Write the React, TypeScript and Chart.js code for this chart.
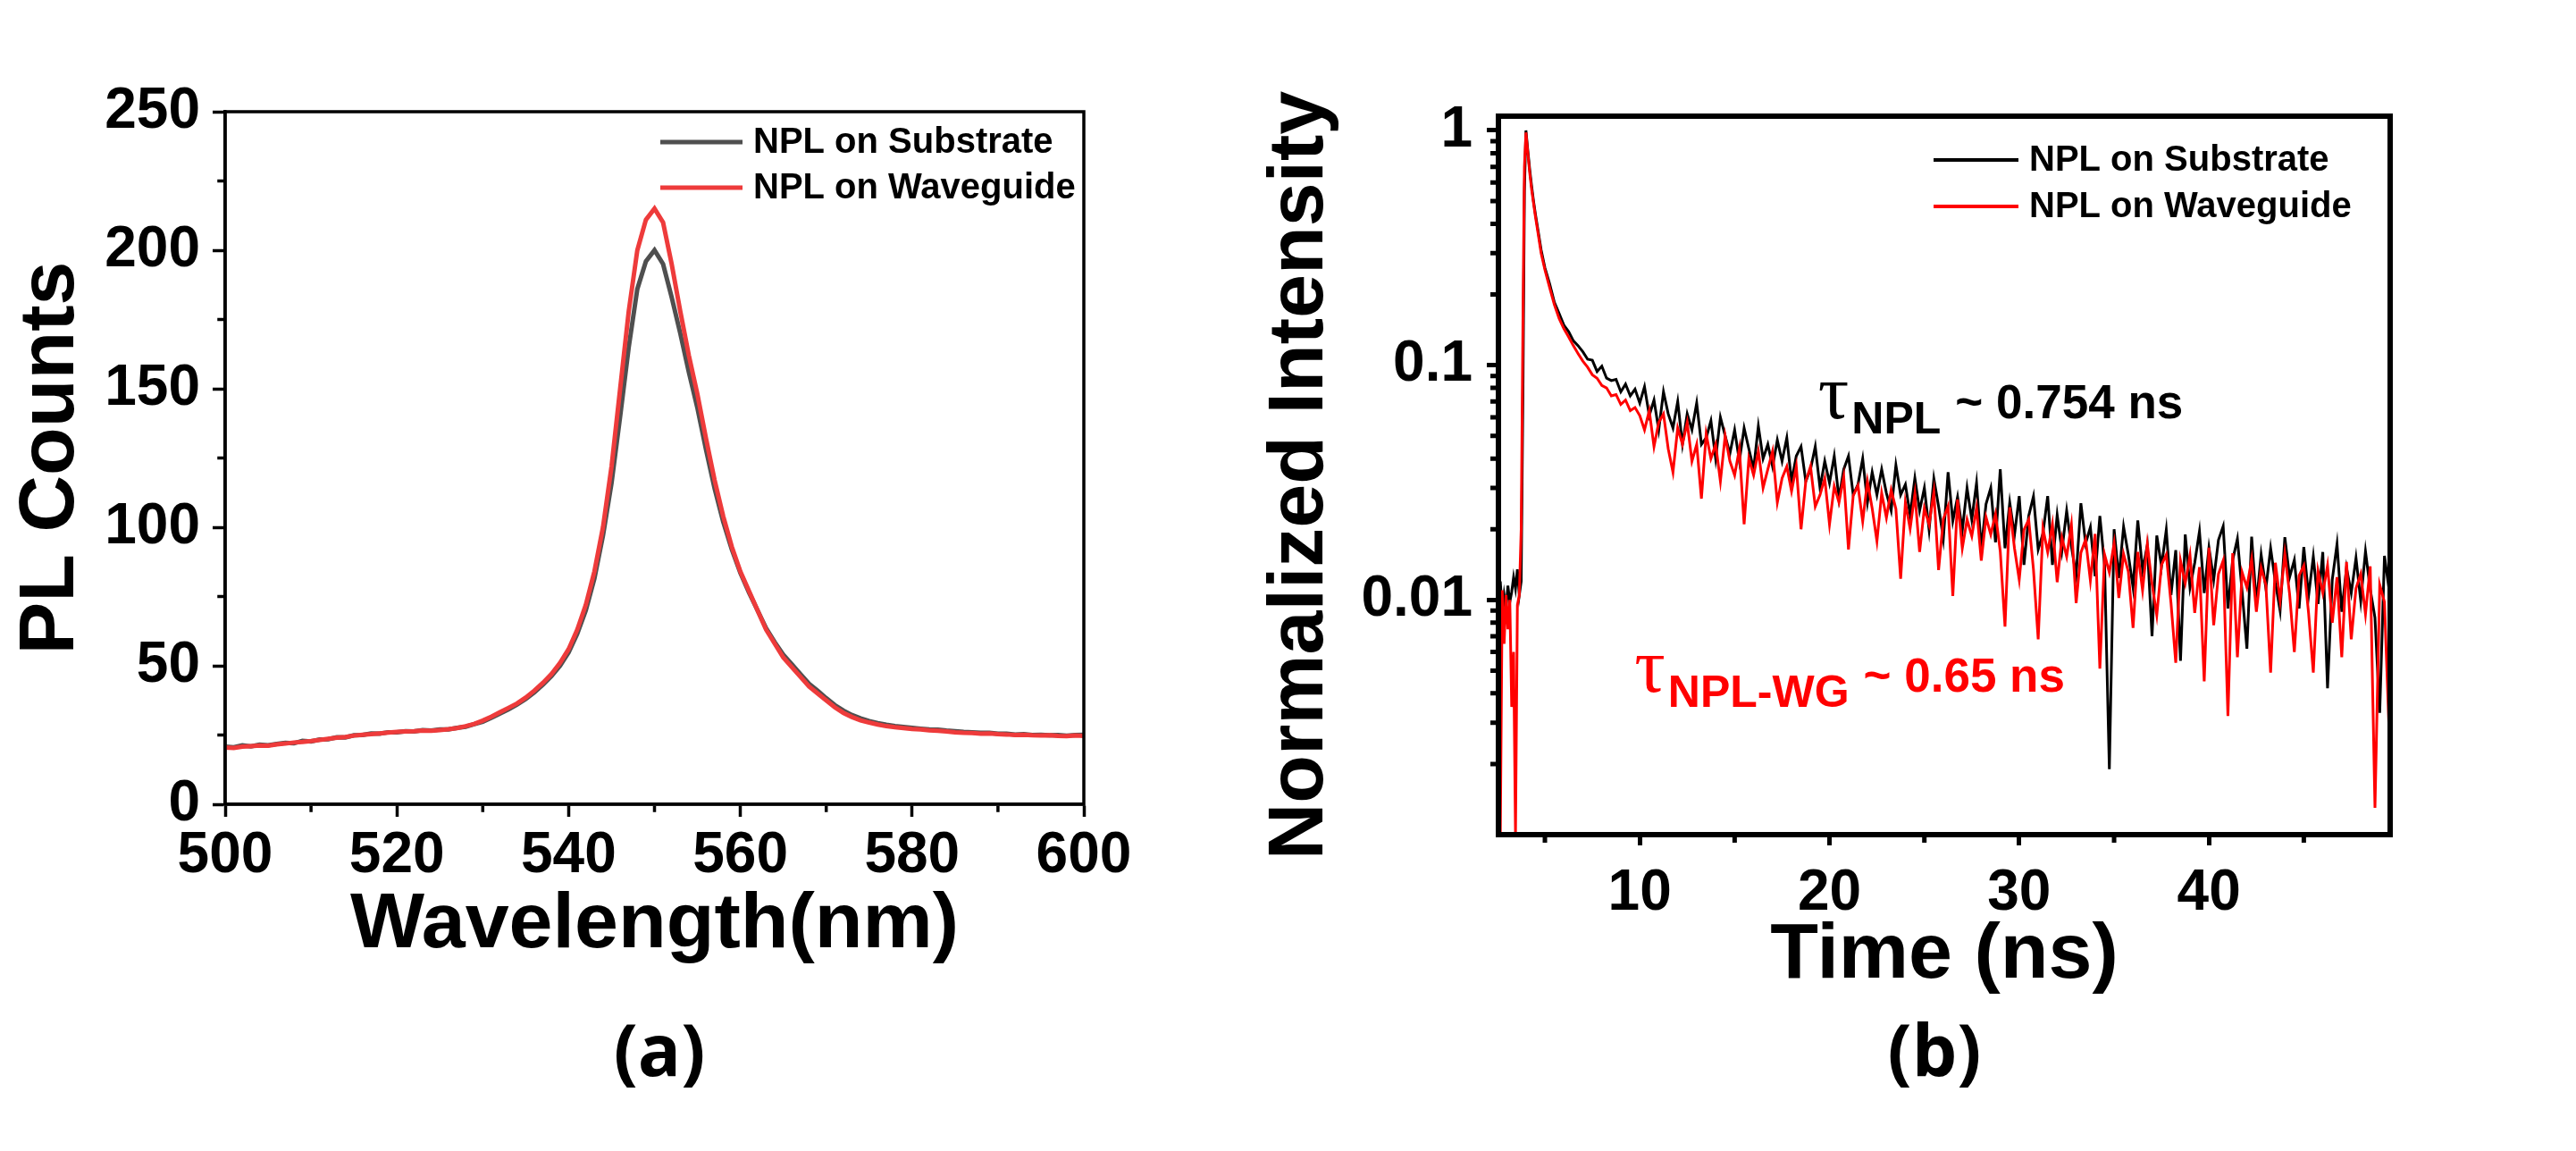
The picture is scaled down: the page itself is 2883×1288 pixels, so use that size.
import React, { useEffect, useRef } from 'react';
import { Chart, registerables } from 'chart.js';

Chart.register(...registerables);

// ---------------- Panel (a): PL spectra ----------------
const wavelength = [
  500, 501, 502, 503, 504, 505, 506, 507, 508, 509,
  510, 511, 512, 513, 514, 515, 516, 517, 518, 519,
  520, 521, 522, 523, 524, 525, 526, 527, 528, 529,
  530, 531, 532, 533, 534, 535, 536, 537, 538, 539,
  540, 541, 542, 543, 544, 545, 546, 547, 548, 549,
  550, 551, 552, 553, 554, 555, 556, 557, 558, 559,
  560, 561, 562, 563, 564, 565, 566, 567, 568, 569,
  570, 571, 572, 573, 574, 575, 576, 577, 578, 579,
  580, 581, 582, 583, 584, 585, 586, 587, 588, 589,
  590, 591, 592, 593, 594, 595, 596, 597, 598, 599,
  600,
];

const plSubstrate = [
  20.8, 20.6, 21.3, 20.9, 21.5, 21.3, 21.8, 22.2, 22.0, 22.9,
  22.7, 23.4, 23.5, 24.2, 24.1, 24.9, 25.0, 25.6, 25.5, 26.0,
  26.0, 26.4, 26.3, 26.8, 26.6, 27.0, 27.0, 27.6, 28.0, 28.9,
  29.8, 31.2, 32.7, 34.3, 36.0, 38.0, 40.4, 43.2, 46.3, 50.0,
  54.8, 61.5, 70.0, 81.5, 97, 116, 140, 165, 186, 196,
  200, 195, 183, 170, 156, 143, 128, 114, 102, 92,
  83.5, 76.5, 70, 63.5, 58.5, 54, 50.5, 47, 43.5, 41,
  38.3, 35.8, 33.8, 32.2, 31.0, 30.0, 29.3, 28.7, 28.2, 27.9,
  27.6, 27.3, 27.0, 26.9, 26.6, 26.4, 26.1, 26.0, 25.8, 25.8,
  25.5, 25.5, 25.2, 25.3, 25.0, 25.1, 24.9, 25.0, 24.8, 25.0,
  25.1,
];

const plWaveguide = [
  20.5, 20.3, 20.8, 21.0, 21.2, 21.1, 21.6, 21.9, 22.3, 22.5,
  22.8, 23.2, 23.6, 24.0, 24.3, 24.8, 25.1, 25.3, 25.6, 25.9,
  26.1, 26.3, 26.4, 26.6, 26.5, 26.8, 27.1, 27.5, 28.2, 29.0,
  30.2, 31.6, 33.2, 34.8, 36.4, 38.5, 41.0, 43.8, 47.0, 51.0,
  56.0, 63.0, 72.0, 84.0, 100, 122, 150, 178, 200, 211,
  215, 210, 195, 178, 162, 148, 132, 117, 104, 93,
  84, 77, 70, 63, 58, 53, 49.5, 46, 42.5, 40,
  37.5, 35, 33, 31.5, 30.3, 29.5, 28.8, 28.2, 27.8, 27.5,
  27.2, 27.0, 26.7, 26.5, 26.3, 26.0, 25.8, 25.7, 25.5, 25.6,
  25.3, 25.2, 25.0, 25.1, 24.9, 24.8, 24.9, 24.7, 24.6, 24.8,
  24.7,
];

const plXTicks = [500, 520, 540, 560, 580, 600];
const plXMinor = [510, 530, 550, 570, 590];
const plYTicks = [0, 50, 100, 150, 200, 250];
const plYMinor = [25, 75, 125, 175, 225];

// ---------------- Panel (b): TRPL decays ----------------
const timeNs = [
  2.55, 2.65, 2.75, 2.85, 2.95, 3.05, 3.15, 3.25, 3.35, 3.45, 3.55, 3.65,
  3.75, 3.85, 3.92, 4.0, 4.1, 4.2, 4.3, 4.4, 4.5, 4.65, 4.8, 5.0,
  5.25, 5.5, 5.75, 6.0, 6.25, 6.5, 6.75, 7.0, 7.25, 7.5, 7.75, 8.0,
  8.25, 8.5, 8.75, 9.0, 9.25, 9.5, 9.75, 10.0, 10.25, 10.5, 10.75, 11.0,
  11.25, 11.5, 11.75, 12.0, 12.25, 12.5, 12.75, 13.0, 13.25, 13.5, 13.75, 14.0,
  14.25, 14.5, 14.75, 15.0, 15.25, 15.5, 15.75, 16.0, 16.25, 16.5, 16.75, 17.0,
  17.25, 17.5, 17.75, 18.0, 18.25, 18.5, 18.75, 19.0, 19.25, 19.5, 19.75, 20.0,
  20.25, 20.5, 20.75, 21.0, 21.25, 21.5, 21.75, 22.0, 22.25, 22.5, 22.75, 23.0,
  23.25, 23.5, 23.75, 24.0, 24.25, 24.5, 24.75, 25.0, 25.25, 25.5, 25.75, 26.0,
  26.25, 26.5, 26.75, 27.0, 27.25, 27.5, 27.75, 28.0, 28.25, 28.5, 28.75, 29.0,
  29.25, 29.5, 29.75, 30.0, 30.25, 30.5, 30.75, 31.0, 31.25, 31.5, 31.75, 32.0,
  32.25, 32.5, 32.75, 33.0, 33.25, 33.5, 33.75, 34.0, 34.25, 34.5, 34.75, 35.0,
  35.25, 35.5, 35.75, 36.0, 36.25, 36.5, 36.75, 37.0, 37.25, 37.5, 37.75, 38.0,
  38.25, 38.5, 38.75, 39.0, 39.25, 39.5, 39.75, 40.0, 40.25, 40.5, 40.75, 41.0,
  41.25, 41.5, 41.75, 42.0, 42.25, 42.5, 42.75, 43.0, 43.25, 43.5, 43.75, 44.0,
  44.25, 44.5, 44.75, 45.0, 45.25, 45.5, 45.75, 46.0, 46.25, 46.5, 46.75, 47.0,
  47.25, 47.5, 47.75, 48.0, 48.25, 48.5, 48.75, 49.0, 49.25, 49.5,
];

const trplSubstrate = [
  0.0095, 0.012, 0.0088, 0.0105, 0.0092, 0.0115, 0.0098, 0.0108, 0.0125, 0.0112, 0.0135, 0.0105,
  0.012, 0.09, 0.55, 1.0, 0.82, 0.68, 0.58, 0.50, 0.44, 0.37, 0.31, 0.26,
  0.222, 0.185, 0.166, 0.148,
  0.139, 0.127, 0.121, 0.114,
  0.106, 0.105, 0.094, 0.099,
  0.088, 0.086, 0.087, 0.077,
  0.083, 0.074, 0.079, 0.069,
  0.081, 0.061, 0.071, 0.053,
  0.077, 0.062, 0.054, 0.070,
  0.046, 0.062, 0.053, 0.069,
  0.046, 0.049, 0.058, 0.040,
  0.060, 0.050, 0.042, 0.053,
  0.039, 0.054, 0.044, 0.036,
  0.055, 0.040, 0.046, 0.037,
  0.048, 0.039, 0.049, 0.032,
  0.041, 0.045, 0.032, 0.036,
  0.045, 0.030, 0.039, 0.0315,
  0.041, 0.027, 0.036, 0.041,
  0.028, 0.031, 0.040, 0.026,
  0.035, 0.028, 0.036, 0.0285,
  0.024, 0.0375, 0.028, 0.031,
  0.023, 0.033, 0.024, 0.030,
  0.0199, 0.0329, 0.025, 0.0182,
  0.035, 0.0217, 0.0275, 0.0198,
  0.030, 0.022, 0.0315, 0.0165,
  0.0256, 0.030, 0.0176, 0.036,
  0.0166, 0.026, 0.0189, 0.0277,
  0.0141, 0.0228, 0.0276, 0.0164,
  0.0192, 0.0277, 0.0141, 0.023,
  0.0162, 0.024, 0.0169, 0.0127,
  0.0258, 0.0174, 0.0204, 0.0126,
  0.0228, 0.014, 0.0019, 0.020,
  0.0124, 0.0205, 0.0156, 0.0113,
  0.0218, 0.0134, 0.0171, 0.0070,
  0.0188, 0.0139, 0.0199, 0.0105,
  0.0163, 0.0055, 0.019, 0.0113,
  0.0144, 0.0196, 0.0107, 0.0167,
  0.0122, 0.018, 0.0206, 0.0092,
  0.0148, 0.0182, 0.0108, 0.0062,
  0.0186, 0.0096, 0.0156, 0.0112,
  0.0166, 0.0119, 0.009, 0.0185,
  0.0125, 0.0148, 0.0092, 0.0168,
  0.0104, 0.0153, 0.0096, 0.016,
  0.0042, 0.0122, 0.0173, 0.0089,
  0.0137, 0.0107, 0.0151, 0.0099,
  0.0161, 0.0111, 0.0084, 0.0033,
  0.0154, 0.011,
];

const trplWaveguide = [
  0.004, 0.001, 0.011, 0.0065, 0.0105, 0.0075, 0.010, 0.0035, 0.006, 0.001, 0.0095, 0.0105,
  0.02, 0.18, 0.7, 0.98, 0.80, 0.66, 0.56, 0.49, 0.43, 0.36, 0.30, 0.255,
  0.214, 0.181, 0.158, 0.143,
  0.132, 0.121, 0.112, 0.104,
  0.098, 0.091, 0.088, 0.082,
  0.080, 0.074, 0.075, 0.068,
  0.071, 0.064, 0.066, 0.061,
  0.053, 0.064, 0.045, 0.057,
  0.062, 0.044, 0.035, 0.054,
  0.046, 0.057, 0.039, 0.046,
  0.027, 0.051, 0.040, 0.046,
  0.032, 0.050, 0.039, 0.034,
  0.044, 0.021, 0.040, 0.034,
  0.043, 0.030, 0.036, 0.043,
  0.026, 0.033, 0.037, 0.029,
  0.037, 0.020, 0.032, 0.037,
  0.025, 0.028, 0.033, 0.021,
  0.0305, 0.026, 0.0335, 0.0164,
  0.0278, 0.0307, 0.0216, 0.032,
  0.0245, 0.0178, 0.0285, 0.0224,
  0.0294, 0.0244, 0.0123, 0.026,
  0.0201, 0.0283, 0.016, 0.0246,
  0.0209, 0.0288, 0.0134, 0.0221,
  0.0251, 0.0104, 0.0268, 0.0166,
  0.022, 0.0187, 0.0247, 0.0147,
  0.0225, 0.019, 0.0232, 0.0161,
  0.0077, 0.0248, 0.0166, 0.0122,
  0.0199, 0.022, 0.0135, 0.0068,
  0.0202, 0.016, 0.021, 0.0119,
  0.0184, 0.0153, 0.0209, 0.0097,
  0.0159, 0.0181, 0.0121, 0.0191,
  0.0051, 0.0156, 0.0131, 0.0174,
  0.0102, 0.0157, 0.0132, 0.0076,
  0.016, 0.011, 0.0173, 0.0117,
  0.0086, 0.0141, 0.0156, 0.0097,
  0.0054, 0.0147, 0.0118, 0.0155,
  0.0088, 0.0138, 0.0045, 0.0167,
  0.0078, 0.0129, 0.0147, 0.0032,
  0.0158, 0.0057, 0.0131, 0.0113,
  0.0149, 0.0089, 0.0137, 0.0116,
  0.0049, 0.0144, 0.0099, 0.0157,
  0.0106, 0.006, 0.0127, 0.014,
  0.0088, 0.0049, 0.0133, 0.0107,
  0.014, 0.008, 0.0125, 0.0057,
  0.0145, 0.0068, 0.0112, 0.0129,
  0.0087, 0.0139, 0.0013, 0.0116,
  0.0098, 0.0027,
];

const trXTicks = [10, 20, 30, 40];
const trXMinor = [5, 15, 25, 35, 45];
const trYTicks = [0.01, 0.1, 1];
const trYMinor = [
  0.002, 0.003, 0.004, 0.005, 0.006, 0.007, 0.008, 0.009,
  0.02, 0.03, 0.04, 0.05, 0.06, 0.07, 0.08, 0.09,
  0.2, 0.3, 0.4, 0.5, 0.6, 0.7, 0.8, 0.9,
];

const seriesNames = ['NPL on Substrate', 'NPL on Waveguide'];
const lifetimeNotes = [
  { t: 19.4, v: 0.0593, sub: 'NPL', text: '~ 0.754 ns', color: '#000000' },
  { t: 9.72, v: 0.00408, sub: 'NPL-WG', text: '~ 0.65 ns', color: '#FF0000' },
];

const FONT = '"Liberation Sans", Arial, Helvetica, sans-serif';

type LegendItem = { label: string; color: string; dy: number };
type DecorCfg = {
  frameWidth: number;
  tickWidth: number;
  minorLen: number;
  xMinor: number[];
  yMinor: number[];
  legend: LegendItem[];
  legendX0: number;
  legendX1: number;
  legendTextX: number;
  legendLineWidth: number;
  notes?: typeof lifetimeNotes;
};

function makeDecor(cfg: DecorCfg) {
  return {
    id: 'decor',
    afterDatasetsDraw(chart: any) {
      const { ctx, chartArea: ca } = chart;
      const xs = chart.scales.x;
      const ys = chart.scales.y;
      ctx.save();
      ctx.strokeStyle = '#000';
      ctx.lineCap = 'butt';
      const fw = cfg.frameWidth / 2;
      ctx.lineWidth = cfg.tickWidth;
      ctx.beginPath();
      cfg.xMinor.forEach((v) => {
        const p = xs.getPixelForValue(v);
        ctx.moveTo(p, ca.bottom + fw);
        ctx.lineTo(p, ca.bottom + fw + cfg.minorLen);
      });
      cfg.yMinor.forEach((v) => {
        const p = ys.getPixelForValue(v);
        ctx.moveTo(ca.left - fw, p);
        ctx.lineTo(ca.left - fw - cfg.minorLen, p);
      });
      ctx.stroke();
      ctx.lineWidth = cfg.frameWidth;
      ctx.lineJoin = 'miter';
      ctx.strokeRect(ca.left, ca.top, ca.right - ca.left, ca.bottom - ca.top);

      // legend
      cfg.legend.forEach((item) => {
        const y = ca.top + item.dy;
        ctx.strokeStyle = item.color;
        ctx.lineWidth = cfg.legendLineWidth;
        ctx.beginPath();
        ctx.moveTo(ca.left + cfg.legendX0, y);
        ctx.lineTo(ca.left + cfg.legendX1, y);
        ctx.stroke();
        ctx.fillStyle = '#000';
        ctx.font = `bold 40px ${FONT}`;
        ctx.textAlign = 'left';
        ctx.textBaseline = 'middle';
        ctx.fillText(item.label, ca.left + cfg.legendTextX, y + 1);
      });

      // lifetime annotations
      (cfg.notes || []).forEach((n) => {
        const x0 = xs.getPixelForValue(n.t);
        const y0 = ys.getPixelForValue(n.v);
        ctx.fillStyle = n.color;
        ctx.textAlign = 'left';
        ctx.textBaseline = 'alphabetic';
        ctx.font = `86px "Liberation Serif", "DejaVu Serif", serif`;
        ctx.fillText('τ', x0, y0);
        let x = x0 + ctx.measureText('τ').width + 3;
        ctx.font = `bold 50px ${FONT}`;
        ctx.fillText(n.sub, x, y0 + 17);
        x += ctx.measureText(n.sub).width + 16;
        ctx.font = `bold 53px ${FONT}`;
        ctx.fillText(n.text, x, y0);
      });
      ctx.restore();
    },
  };
}

function axisCommon(tickLen: number, tickW: number, borderW: number) {
  return {
    grid: {
      drawOnChartArea: false,
      drawTicks: true,
      tickLength: tickLen,
      tickWidth: tickW,
      tickColor: '#000',
    },
    border: { display: true, color: '#000', width: borderW },
  };
}

function PLChart() {
  const ref = useRef<HTMLCanvasElement | null>(null);
  useEffect(() => {
    if (!ref.current) return;
    const chart = new Chart(ref.current, {
      type: 'line',
      data: {
        datasets: [
          {
            label: seriesNames[0],
            data: wavelength.map((w, i) => ({ x: w, y: plSubstrate[i] })),
            borderColor: '#4F4F4F',
            borderWidth: 5,
            pointRadius: 0,
            tension: 0,
            order: 1,
          },
          {
            label: seriesNames[1],
            data: wavelength.map((w, i) => ({ x: w, y: plWaveguide[i] })),
            borderColor: '#EE3B3B',
            borderWidth: 5,
            pointRadius: 0,
            tension: 0,
            order: 0,
          },
        ],
      },
      options: {
        responsive: false,
        animation: false,
        devicePixelRatio: 1,
        layout: { padding: { top: 125, right: 87, left: 0, bottom: 0 } },
        plugins: { legend: { display: false }, tooltip: { enabled: false } },
        scales: {
          x: {
            type: 'linear',
            min: 500,
            max: 600,
            afterBuildTicks: (s: any) => {
              s.ticks = plXTicks.map((v) => ({ value: v }));
            },
            afterFit: (s: any) => {
              s.height = 200;
            },
            ticks: {
              color: '#000',
              font: { family: FONT, size: 64, weight: 'bold' },
              padding: 6,
              maxRotation: 0,
              autoSkip: false,
              callback: (v: any) => String(v),
            },
            ...axisCommon(14, 3.5, 3.5),
            title: {
              display: true,
              text: 'Wavelength(nm)',
              color: '#000',
              font: { family: FONT, size: 88, weight: 'bold' },
              padding: { top: 0, bottom: 11 },
            },
          },
          y: {
            type: 'linear',
            min: 0,
            max: 250,
            afterBuildTicks: (s: any) => {
              s.ticks = plYTicks.map((v) => ({ value: v }));
            },
            afterFit: (s: any) => {
              s.width = 252;
            },
            ticks: {
              color: '#000',
              font: { family: FONT, size: 64, weight: 'bold' },
              padding: 14,
              autoSkip: false,
              callback: (v: any) => String(v),
            },
            ...axisCommon(14, 3.5, 3.5),
            title: {
              display: true,
              text: 'PL Counts',
              color: '#000',
              font: { family: FONT, size: 88, weight: 'bold' },
              padding: { top: 5, bottom: 0 },
            },
          },
        },
      } as any,
      plugins: [
        makeDecor({
          frameWidth: 3.5,
          tickWidth: 3.5,
          minorLen: 7,
          xMinor: plXMinor,
          yMinor: plYMinor,
          legend: [
            { label: seriesNames[0], color: '#4F4F4F', dy: 34 },
            { label: seriesNames[1], color: '#EE3B3B', dy: 85 },
          ],
          legendX0: 487,
          legendX1: 579,
          legendTextX: 591,
          legendLineWidth: 5,
        }),
      ],
    });
    return () => chart.destroy();
  }, []);
  return (
    <canvas
      ref={ref}
      width={1300}
      height={1100}
      style={{ position: 'absolute', left: 0, top: 0, width: 1300, height: 1100 }}
    />
  );
}

function TRPLChart() {
  const ref = useRef<HTMLCanvasElement | null>(null);
  useEffect(() => {
    if (!ref.current) return;
    const chart = new Chart(ref.current, {
      type: 'line',
      data: {
        datasets: [
          {
            label: seriesNames[0],
            data: timeNs.map((t, i) => ({ x: t, y: trplSubstrate[i] })),
            borderColor: '#000000',
            borderWidth: 3,
            pointRadius: 0,
            tension: 0,
            order: 1,
          },
          {
            label: seriesNames[1],
            data: timeNs.map((t, i) => ({ x: t, y: trplWaveguide[i] })),
            borderColor: '#FF0000',
            borderWidth: 3,
            pointRadius: 0,
            tension: 0,
            order: 0,
          },
        ],
      },
      options: {
        responsive: false,
        animation: false,
        devicePixelRatio: 1,
        layout: { padding: { top: 130, right: 115, left: 0, bottom: 0 } },
        plugins: { legend: { display: false }, tooltip: { enabled: false } },
        scales: {
          x: {
            type: 'linear',
            min: 2.55,
            max: 49.55,
            afterBuildTicks: (s: any) => {
              s.ticks = trXTicks.map((v) => ({ value: v }));
            },
            afterFit: (s: any) => {
              s.height = 216;
            },
            ticks: {
              color: '#000',
              font: { family: FONT, size: 64, weight: 'bold' },
              padding: 16,
              maxRotation: 0,
              autoSkip: false,
              callback: (v: any) => String(v),
            },
            ...axisCommon(12, 5, 6),
            title: {
              display: true,
              text: 'Time (ns)',
              color: '#000',
              font: { family: FONT, size: 88, weight: 'bold' },
              padding: { top: 0, bottom: 27 },
            },
          },
          y: {
            type: 'logarithmic',
            min: 0.001,
            max: 1.15,
            afterBuildTicks: (s: any) => {
              s.ticks = trYTicks.map((v) => ({ value: v }));
            },
            afterFit: (s: any) => {
              s.width = 287;
            },
            ticks: {
              color: '#000',
              font: { family: FONT, size: 64, weight: 'bold' },
              padding: 16,
              autoSkip: false,
              callback: (v: any) => String(v),
            },
            ...axisCommon(13, 5, 6),
            title: {
              display: true,
              text: 'Normalized Intensity',
              color: '#000',
              font: { family: FONT, size: 88, weight: 'bold' },
              padding: { top: 13, bottom: 0 },
            },
          },
        },
      } as any,
      plugins: [
        makeDecor({
          frameWidth: 6,
          tickWidth: 5,
          minorLen: 6,
          xMinor: trXMinor,
          yMinor: trYMinor,
          legend: [
            { label: seriesNames[0], color: '#000000', dy: 49 },
            { label: seriesNames[1], color: '#FF0000', dy: 101 },
          ],
          legendX0: 487,
          legendX1: 582,
          legendTextX: 594,
          legendLineWidth: 4,
          notes: lifetimeNotes,
        }),
      ],
    });
    return () => chart.destroy();
  }, []);
  return (
    <canvas
      ref={ref}
      width={1400}
      height={1150}
      style={{ position: 'absolute', left: 1390, top: 0, width: 1400, height: 1150 }}
    />
  );
}

const panelLabelStyle: React.CSSProperties = {
  position: 'absolute',
  top: 1133,
  width: 300,
  textAlign: 'center',
  fontFamily: '"Open Sans", "Noto Sans", sans-serif',
  fontWeight: 700,
  fontSize: 80,
  lineHeight: '80px',
  color: '#000',
};

export default function App() {
  return (
    <div
      style={{
        position: 'absolute',
        left: 0,
        top: 0,
        width: 2883,
        height: 1288,
        background: '#ffffff',
        overflow: 'hidden',
      }}
    >
      <PLChart />
      <TRPLChart />
      <div style={{ ...panelLabelStyle, left: 738 - 150 }}>(a)</div>
      <div style={{ ...panelLabelStyle, left: 2165 - 150 }}>(b)</div>
    </div>
  );
}
